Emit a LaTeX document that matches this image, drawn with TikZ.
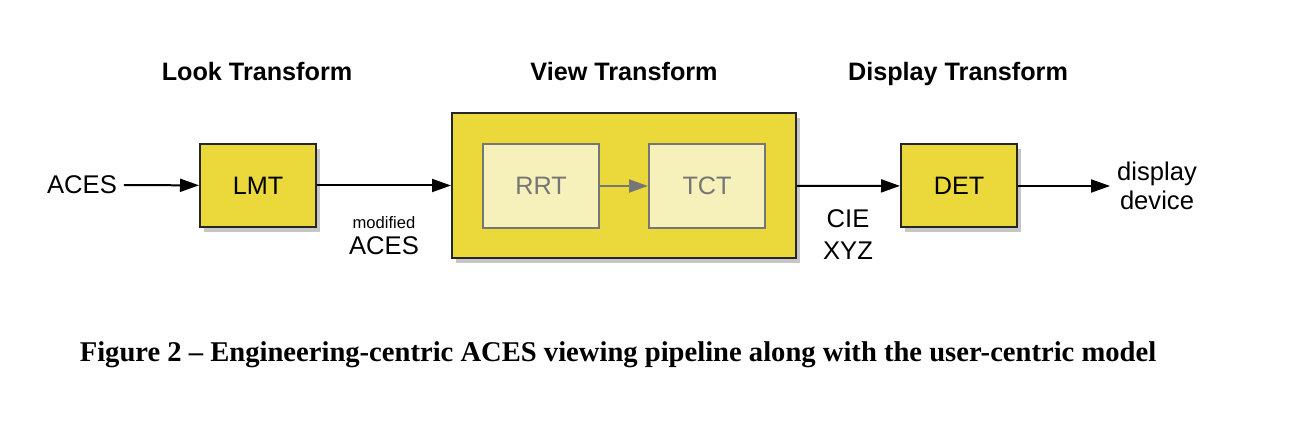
\documentclass[tikz,border=0pt]{standalone}
\usepackage{fontspec}
\setmainfont{Liberation Serif}
\setsansfont{Liberation Sans}
\usetikzlibrary{arrows.meta,shadows}
\definecolor{boxyellow}{RGB}{235,217,60}
\definecolor{paleyellow}{RGB}{246,240,186}
\definecolor{innergray}{RGB}{118,118,118}
\begin{document}
\begin{tikzpicture}
    [x=0.5pt,y=-0.5pt,
     every node/.style={font=\sffamily},
     stage/.style={draw=black!85,line width=1pt,fill=boxyellow,
       drop shadow={shadow xshift=2pt,shadow yshift=-2.5pt,opacity=0.45},
       minimum width=58pt,minimum height=41.5pt,font=\sffamily\fontsize{12.6}{14}\selectfont},
     inner/.style={draw=innergray,line width=1pt,fill=paleyellow,text=innergray,
       minimum width=58pt,minimum height=42pt,font=\sffamily\fontsize{12.6}{14}\selectfont},
     heading/.style={anchor=base,font=\sffamily\bfseries\fontsize{12.6}{14}\selectfont},
     label/.style={font=\sffamily\fontsize{12.8}{14.5}\selectfont,align=center},
     flow/.style={line width=1pt,-{Triangle[length=9.5pt,width=6.5pt]}}]
    \useasboundingbox (0,0) rectangle (1292,438);
    % headings
    \node[heading] (hlook) at (257,81) {Look Transform};
    \node[heading] (hview) at (624,81) {View Transform};
    \node[heading] (hdisp) at (958,81) {Display Transform};
    % stages
    \node[stage] (lmt) at (258,185.5) {LMT};
    \node[stage,minimum width=172pt,minimum height=72.5pt] (view) at (624,185.5) {};
    \node[inner] (rrt) at (541,186) {RRT};
    \node[inner] (tct) at (707,186) {TCT};
    \node[stage] (det) at (959,186) {DET};
    % ends
    \node[label] (aces) at (82,185) {ACES};
    \node[label,font=\sffamily\fontsize{12.8}{14.5}\selectfont] (disp) at (1157,186) {display\\device};
    \node[label,font=\sffamily\fontsize{8.3}{10}\selectfont] (mod) at (384,223) {modified};
    \node[label] (modaces) at (384,246) {ACES};
    \node[label,font=\sffamily\fontsize{12.8}{16}\selectfont] (cie) at (848,235) {CIE\\XYZ};
    \draw[flow] (aces) -- (lmt);
    \draw[flow] (lmt) -- (view);
    \draw[flow,draw=innergray,fill=innergray] (rrt) -- (tct);
    \draw[flow] (view) -- (det);
    \draw[flow] (det) -- (disp);
    % caption
    \node[font=\rmfamily\bfseries\fontsize{14.3}{17}\selectfont] (cap) at (618,355)
      {Figure 2 -- Engineering-centric ACES viewing pipeline along with the user-centric model};
  \end{tikzpicture}
\end{document}
